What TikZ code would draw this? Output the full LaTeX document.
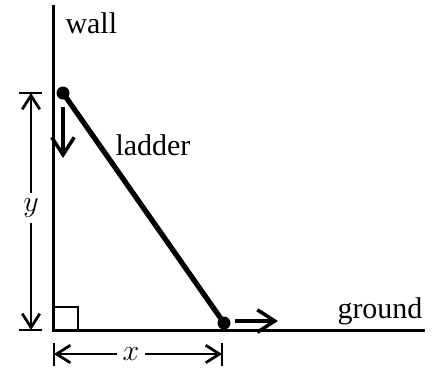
\documentclass[12pt,tikz,border=0pt]{standalone}
\usepackage{fontspec}
\setmainfont{Liberation Serif}
\usepackage{tikz}
\usetikzlibrary{arrows.meta, positioning}

\begin{document}
\begin{tikzpicture}[
    x=0.4pt, y=-0.4pt,
    frame/.style={line width=1.2pt},
    rod/.style={line width=2.1pt},
    joint/.style={circle, fill=black, inner sep=0pt, minimum size=5.2pt},
    motion/.style={line width=1.4pt, -{Straight Barb[length=7pt, width=9pt]}},
    dimarrow/.style={line width=1.1pt, -{Straight Barb[length=5.5pt, width=7pt]}},
    dimtick/.style={line width=0.9pt},
    label/.style={anchor=base west, inner sep=0pt},
  ]
    \useasboundingbox (0,0) rectangle (440,369);

    % Wall and ground
    \coordinate (walltop) at (53,5);
    \coordinate (corner) at (53,330);
    \coordinate (groundend) at (425,330);
    \draw[frame] (walltop) -- (corner) -- (groundend);
    \draw[line width=0.8pt] (53,307) -| (78,330);
    \node[label] (wall) at (65,33) {wall};
    \node[label] (ground) at (337,318) {ground};

    % Ladder with its two ends
    \node[joint] (top) at (63,93) {};
    \node[joint] (foot) at (224,323) {};
    \draw[rod] (top.center) -- (foot.center);
    \node[label] (ladder) at (115,155) {ladder};

    % Velocities of the ends
    \coordinate (slidestart) at (63,107);
    \coordinate (slideend) at (63,158);
    \draw[motion] (slidestart) -- (slideend);
    \coordinate (pushstart) at (235,321);
    \coordinate (pushend) at (278,321);
    \draw[motion] (pushstart) -- (pushend);

    % Height y
    \draw[dimtick] (19,93) -- (42,93);
    \draw[dimtick] (19,330) -- (42,330);
    \coordinate (yhigh) at (31,93);
    \coordinate (ylow) at (31,330);
    \node[fill=white, inner sep=2pt] (ylab) at (31,208) {$y$};
    \draw[dimarrow] (ylab) -- (yhigh);
    \draw[dimarrow] (ylab) -- (ylow);

    % Distance x
    \draw[dimtick] (54,343) -- (54,366);
    \draw[dimtick] (222,343) -- (222,366);
    \coordinate (xleft) at (54,354);
    \coordinate (xright) at (222,354);
    \node[fill=white, inner sep=2pt] (xlab) at (131,354) {$x$};
    \draw[dimarrow] (xlab) -- (xleft);
    \draw[dimarrow] (xlab) -- (xright);
\end{tikzpicture}
\end{document}
